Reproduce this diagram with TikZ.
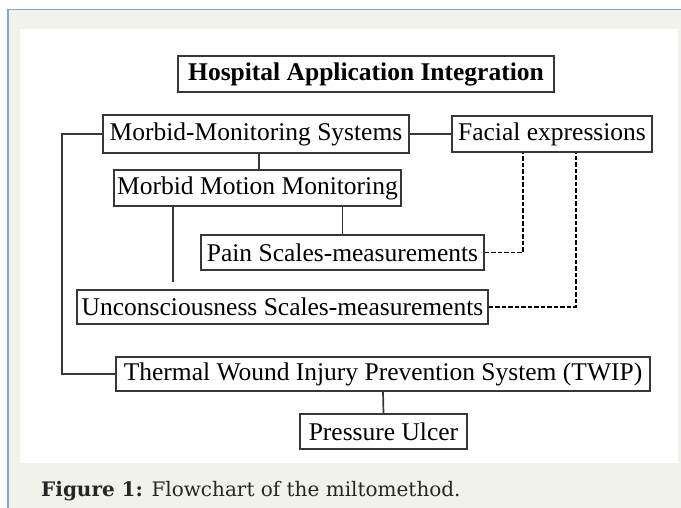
\documentclass[tikz,border=0pt]{standalone}
\usepackage{fontspec}
\setmainfont{Liberation Serif}
\newfontfamily\capfont{DejaVu Serif}
\usetikzlibrary{calc}
\definecolor{bgrey}{RGB}{242,242,237}
\definecolor{bblue}{RGB}{125,165,225}
\definecolor{lcol}{RGB}{55,55,55}
\begin{document}
\begin{tikzpicture}[x=1pt,y=-1pt,
  box/.style={draw=lcol, line width=1.6pt, fill=white, inner sep=0pt,
    font=\fontsize{25.5}{30}\selectfont, text=black},
  link/.style={draw=lcol, line width=1.7pt},
  dlink/.style={draw=black, line width=1.9pt, dash pattern=on 4.5pt off 2pt}]
\useasboundingbox (0,0) rectangle (681,508);
\fill[white] (0,0) rectangle (681,508);
\fill[bgrey] (8,9.5) rectangle (681,508);
\draw[bblue, line width=1.2pt] (8,508) -- (8,9.5) -- (681,9.5);
\fill[white] (20,29) rectangle (677.5,463);

\node[box, minimum width=376pt, minimum height=36pt] (title) at (366,74)
  {\bfseries Hospital Application Integration};
\node[box, minimum width=306pt, minimum height=38pt] (mms) at (256,134)
  {Morbid-Monitoring Systems};
\node[box, minimum width=200pt, minimum height=36pt] (fac) at (552,134)
  {Facial expressions};
\node[box, minimum width=287pt, minimum height=36pt] (mmm) at (257.5,188)
  {Morbid Motion Monitoring};
\node[box, minimum width=283pt, minimum height=35pt] (pain) at (342.5,252.5)
  {Pain Scales-measurements};
\node[box, minimum width=411pt, minimum height=34pt] (unc) at (282.5,307)
  {Unconsciousness Scales-measurements};
\node[box, minimum width=534pt, minimum height=34pt] (twip) at (383,374)
  {Thermal Wound Injury Prevention System (TWIP)};
\node[box, minimum width=167pt, minimum height=35pt] (pu) at (383.5,431.5)
  {Pressure Ulcer};

\coordinate (c1) at ($(mms.south)+(3,0)$);
\coordinate (c2) at ($(mmm.south)+(-84.5,0)$);
\coordinate (c3) at ($(fac.south)+(-29,0)$);
\coordinate (c4) at ($(fac.south)+(24,0)$);

\draw[link] (mms.west) -- ++(-40,0) |- (twip.west);
\draw[link] (mms.east) -- (fac.west);
\draw[link] (c1) -- (c1 |- mmm.north);
\draw[link] (mmm.south -| pain.north) -- (pain.north);
\draw[link, shorten >=7pt] (c2) -- (c2 |- unc.north);
\draw[link] (twip.south) -- (pu.north);
\draw[dlink] (pain.east) -| (c3);
\draw[dlink] (unc.east) -| (c4);

\node[anchor=base west, inner sep=0pt, font=\capfont\fontsize{20}{24}\selectfont,
  text=black!85] (cap) at (41,496) {\textbf{Figure 1:} Flowchart of the miltomethod.};
\end{tikzpicture}
\end{document}
